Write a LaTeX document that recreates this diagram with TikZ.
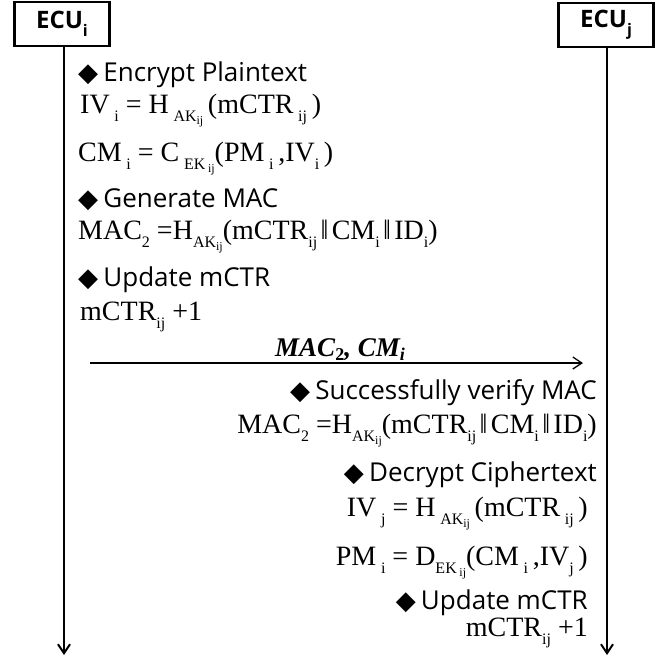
\documentclass[tikz,border=0pt]{standalone}
\usepackage{fontspec}
\setmainfont{Liberation Serif}
\newfontfamily\labfont{Open Sans}
\newfontfamily\dvfont{DejaVu Sans}
\usetikzlibrary{arrows.meta}
\newcommand\sbx[1]{\raisebox{-0.6ex}{\fontsize{16}{16}\selectfont #1}}
\newcommand\ssb[1]{\raisebox{-0.45ex}{\fontsize{12}{12}\selectfont #1}}
\newcommand\dia{{\dvfont ◆}\hspace{0.2em}}
\newcommand\pp{\hspace{0.12em}‖\hspace{0.12em}}
\begin{document}
\begin{tikzpicture}[x=1pt,y=-1pt,
  ecu/.style={draw, line width=2.5pt, minimum width=95pt, minimum height=44pt, inner sep=0pt, font=\labfont\bfseries\fontsize{24}{24}\selectfont},
  lab/.style={inner sep=0pt, font=\labfont\fontsize{26}{26}\selectfont},
  frm/.style={inner sep=0pt, font=\fontsize{28}{28}\selectfont},
  life/.style={line width=2pt, -{Straight Barb[length=9pt,width=12pt,line width=2pt]}},
  msg/.style={line width=1.3pt, -{Straight Barb[length=9pt,width=12pt,line width=1.3pt]}}]
\useasboundingbox (0,0) rectangle (663,659);
\node[ecu] (ecui) at (62,24) {ECU\sbx{i}};
\node[ecu] (ecuj) at (606,25) {ECU\sbx{j}};
\coordinate (endi) at (64,655);
\coordinate (endj) at (607,655);
\draw[life] (ecui.south -| endi) -- (endi);
\draw[life] (ecuj.south -| endj) -- (endj);
% sender block
\node[lab, anchor=west] (t1) at (78,75) {\dia Encrypt Plaintext};
\node[frm, anchor=west] (f1) at (80,111) {IV\,\sbx{i} = H\,\sbx{AK\ssb{ij}}\,(mCTR\,\sbx{ij}\,)};
\node[frm, anchor=west] (f2) at (78,159) {CM\,\sbx{i} = C\,\sbx{EK\,\ssb{ij}}(PM\,\sbx{i}\,,IV\sbx{i}\,)};
\node[lab, anchor=west] (t2) at (78,200) {\dia Generate MAC};
\node[frm, anchor=west] (f3) at (78,237) {MAC\sbx{2} =H\sbx{AK\ssb{ij}}(mCTR\sbx{ij}\pp CM\sbx{i}\pp ID\sbx{i})};
\node[lab, anchor=west] (t3) at (78,280) {\dia Update mCTR};
\node[frm, anchor=west] (f4) at (80,317) {mCTR\sbx{ij} +1};
% message
\node[inner sep=0pt, font=\fontsize{27}{27}\selectfont\bfseries\itshape] (m) at (340,350) {MAC\raisebox{-0.3ex}{\fontsize{18}{18}\selectfont\upshape 2}, CM\raisebox{-0.3ex}{\fontsize{18}{18}\selectfont i}};
\coordinate (m1) at (90,363);
\coordinate (m2) at (583,363);
\draw[msg] (m1) -- (m2);
% receiver block
\node[lab, anchor=east] (r1) at (597,393) {\dia Successfully verify MAC};
\node[frm, anchor=east] (g1) at (597,431) {MAC\sbx{2} =H\sbx{AK\ssb{ij}}(mCTR\sbx{ij}\pp CM\sbx{i}\pp ID\sbx{i})};
\node[lab, anchor=east] (r2) at (597,475) {\dia Decrypt Ciphertext};
\node[frm, anchor=east] (g2) at (588,514) {IV\,\sbx{j} = H\,\sbx{AK\ssb{ij}}\,(mCTR\,\sbx{ij}\,)};
\node[frm, anchor=east] (g3) at (588,563) {PM\,\sbx{i} = D\sbx{EK\,\ssb{ij}}(CM\,\sbx{i}\,,IV\sbx{j}\,)};
\node[lab, anchor=east] (r3) at (588,603) {\dia Update mCTR};
\node[frm, anchor=east] (g4) at (588,633) {mCTR\sbx{ij} +1};
\end{tikzpicture}
\end{document}
